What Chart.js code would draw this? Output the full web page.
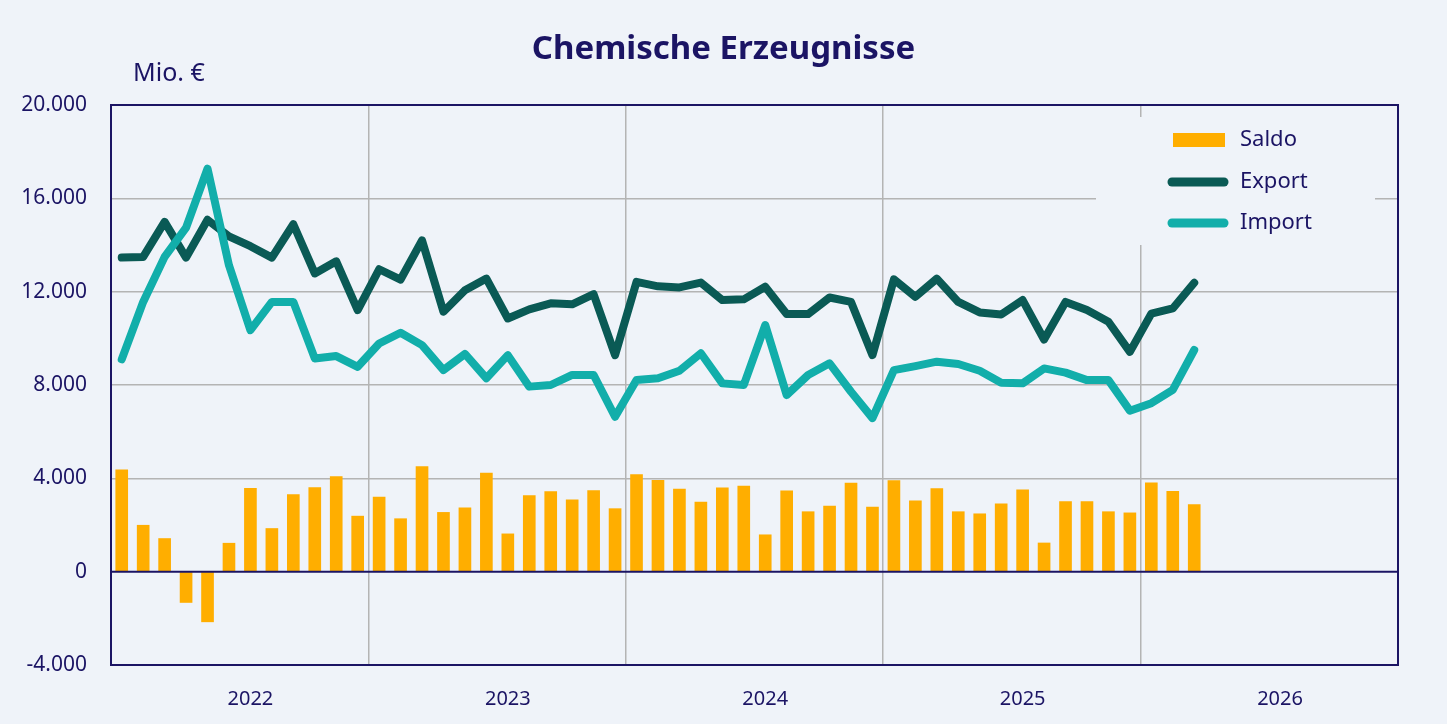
<!DOCTYPE html>
<html lang="de">
<head>
<meta charset="UTF-8">
<title>Chemische Erzeugnisse</title>
<script src="https://cdn.jsdelivr.net/npm/chart.js"></script>
<style>
    body { margin: 0; background: #ffffff; }
    canvas { display: block; background: #eff3f9; }
</style>
</head>
<body>
<canvas id="chemChart" width="1447" height="724"></canvas>
<script>
// Monatswerte ab Januar 2022, in Mio. €
const years = ["2022", "2023", "2024", "2025", "2026"];
const exportValues = [
    13460, 13490, 14990, 13460, 15080, 14370, 13950, 13460, 14890, 12780, 13300, 11210,
    12960, 12520, 14200, 11140, 12060, 12560, 10850, 11240, 11500, 11460, 11890, 9280,
    12420, 12230, 12180, 12390, 11640, 11670, 12210, 11040, 11040, 11750, 11560, 9280,
    12530, 11780, 12560, 11560, 11110, 11020, 11640, 9950, 11560, 11210, 10710, 9420,
    11060, 11280, 12380
];
const importValues = [
    9100, 11560, 13490, 14740, 17270, 13130, 10350, 11560, 11560, 9140, 9240, 8780,
    9780, 10240, 9710, 8640, 9330, 8290, 9280, 7930, 8000, 8430, 8430, 6640,
    8210, 8290, 8610, 9360, 8070, 8000, 10570, 7570, 8430, 8930, 7710, 6580,
    8640, 8810, 9000, 8900, 8610, 8100, 8070, 8710, 8530, 8210, 8210, 6900,
    7220, 7790, 9500
];
const saldoValues = [
    4360, 1990, 1420, -1320, -2150, 1220, 3570, 1850, 3300, 3600, 4070, 2380,
    3200, 2270, 4500, 2540, 2740, 4230, 1620, 3260, 3430, 3080, 3470, 2700,
    4160, 3910, 3540, 2980, 3590, 3670, 1580, 3460, 2570, 2810, 3800, 2770,
    3900, 3040, 3560, 2570, 2480, 2910, 3510, 1230, 3000, 3000, 2570, 2520,
    3810, 3440, 2880
];

const NAVY = "#1b1464";
const GRID = "#b4b4b4";
const BG = "#eff3f9";

Chart.defaults.font.family = '"Noto Sans", sans-serif';

// Monat i liegt in der Mitte seines Intervalls auf der Zeitachse
const toPoints = arr => arr.map((v, i) => ({ x: i + 0.5, y: v }));

function fmt(v) {
    const s = Math.abs(v).toString().replace(/\B(?=(\d{3})+(?!\d))/g, ".");
    return (v < 0 ? "-" : "") + s;
}

// Legende oben rechts im Diagramm, überdeckt die Gitterlinien
const legendBox = {
    id: "legendBox",
    beforeDatasetsDraw(chart) {
        const { ctx, chartArea: a } = chart;
        const ds = chart.data.datasets;
        ctx.save();
        ctx.fillStyle = BG;
        ctx.fillRect(a.right - 302, a.top + 12, 279, 128);

        const x0 = a.right - 226, x1 = a.right - 174;
        const rows = [a.top + 35, a.top + 77, a.top + 118];
        ctx.font = '22px "Noto Sans", sans-serif';
        ctx.textBaseline = "middle";
        ds.forEach((d, k) => {
            const y = rows[k];
            if (d.type === "bar") {
                ctx.fillStyle = d.backgroundColor;
                ctx.fillRect(x0 + 1, y - 7, 52, 14);
            } else {
                ctx.strokeStyle = d.borderColor;
                ctx.lineWidth = 9;
                ctx.lineCap = "round";
                ctx.beginPath();
                ctx.moveTo(x0, y);
                ctx.lineTo(x1, y);
                ctx.stroke();
            }
            ctx.fillStyle = NAVY;
            ctx.fillText(d.label, a.right - 158, y);
        });
        ctx.restore();
    }
};

// Rahmen, Nulllinie, Titel und Einheit
const frame = {
    id: "frame",
    afterDatasetsDraw(chart) {
        const { ctx, chartArea: a, scales } = chart;
        const y0 = scales.y.getPixelForValue(0);
        ctx.save();
        ctx.strokeStyle = NAVY;
        ctx.lineWidth = 2;
        ctx.strokeRect(a.left, a.top, a.right - a.left, a.bottom - a.top);
        ctx.beginPath();
        ctx.moveTo(a.left, y0);
        ctx.lineTo(a.right, y0);
        ctx.stroke();

        ctx.fillStyle = NAVY;
        ctx.textBaseline = "middle";
        ctx.textAlign = "center";
        ctx.font = 'bold 33px "Noto Sans", sans-serif';
        ctx.fillText("Chemische Erzeugnisse", chart.width / 2, 50);

        ctx.textAlign = "left";
        ctx.font = '25px "Noto Sans", sans-serif';
        ctx.fillText("Mio. €", a.left + 22, a.top - 31);
        ctx.restore();
    }
};

new Chart(document.getElementById("chemChart"), {
    data: {
        datasets: [
            {
                type: "bar",
                label: "Saldo",
                data: toPoints(saldoValues),
                backgroundColor: "#ffae00",
                barThickness: 12,
                order: 3
            },
            {
                type: "line",
                label: "Export",
                data: toPoints(exportValues),
                borderColor: "#0a5a55",
                borderWidth: 8,
                pointRadius: 0,
                borderJoinStyle: "round",
                borderCapStyle: "round",
                tension: 0,
                order: 2
            },
            {
                type: "line",
                label: "Import",
                data: toPoints(importValues),
                borderColor: "#12aeaa",
                borderWidth: 8,
                pointRadius: 0,
                borderJoinStyle: "round",
                borderCapStyle: "round",
                tension: 0,
                order: 1
            }
        ]
    },
    options: {
        responsive: false,
        animation: false,
        layout: { padding: { left: 0, right: 49, top: 105, bottom: 0 } },
        plugins: {
            legend: { display: false },
            tooltip: { enabled: false },
            title: { display: false }
        },
        scales: {
            x: {
                type: "linear",
                min: 0,
                max: 60,
                offset: false,
                // Jahresgrenzen als Gitterlinien, Jahreszahl etwa zur Jahresmitte
                afterBuildTicks: s => {
                    const t = [];
                    years.forEach((y, k) => {
                        t.push({ value: k * 12 });
                        t.push({ value: k * 12 + 6.5 });
                    });
                    t.push({ value: 60 });
                    s.ticks = t;
                },
                ticks: {
                    autoSkip: false,
                    maxRotation: 0,
                    padding: 22,
                    color: NAVY,
                    font: { size: 20 },
                    callback: v => (v % 12 === 6.5 ? years[(v - 6.5) / 12] : "")
                },
                grid: {
                    offset: false,
                    drawTicks: false,
                    lineWidth: 1.5,
                    color: c => (c.tick && c.tick.value % 12 === 0 ? GRID : "rgba(0,0,0,0)")
                },
                border: { display: false },
                afterFit: s => { s.height = 59; }
            },
            y: {
                min: -4000,
                max: 20000,
                ticks: {
                    stepSize: 4000,
                    padding: 24,
                    color: NAVY,
                    font: { size: 21 },
                    callback: fmt
                },
                grid: {
                    drawTicks: false,
                    lineWidth: 1.5,
                    color: c => (c.tick && c.tick.value === 0 ? "rgba(0,0,0,0)" : GRID)
                },
                border: { display: false },
                afterFit: s => { s.width = 111; }
            }
        }
    },
    plugins: [legendBox, frame]
});
</script>
</body>
</html>
